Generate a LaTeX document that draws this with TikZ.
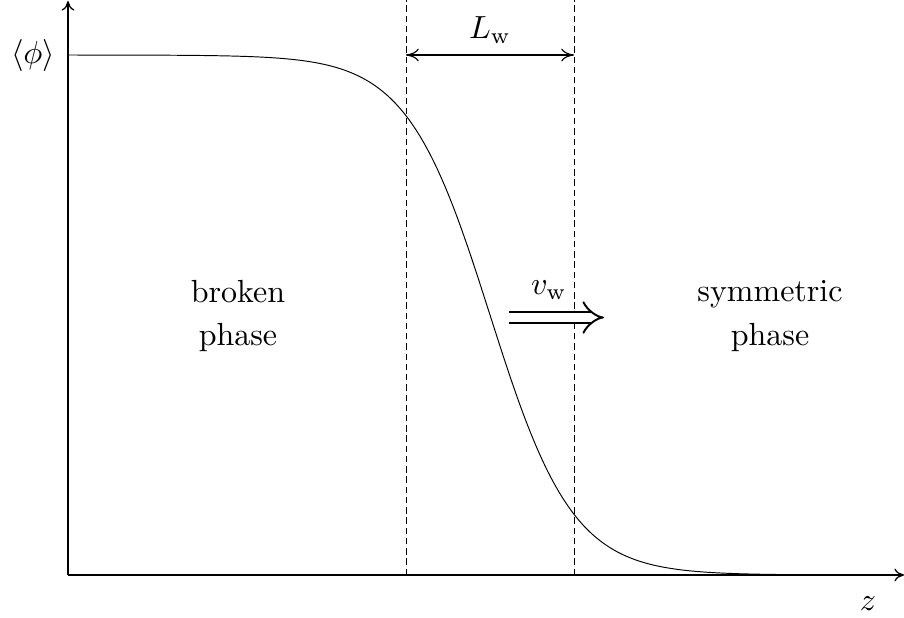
\documentclass[tikz,border=0pt]{standalone}
\usetikzlibrary{arrows.meta}
\begin{document}
\begin{tikzpicture}[x=0.3125pt,y=-0.3125pt,
  axis/.style={line width=0.4pt,-{To[length=3pt,width=4pt]}},
  guide/.style={line width=0.3pt,dashed,dash pattern=on 2pt off 1.2pt},
  lbl/.style={font=\fontsize{10}{13.5}\selectfont,align=center}]
\useasboundingbox (0,0) rectangle (904,617);
\coordinate (O) at (68,575);
\coordinate (xend) at (904,575);
\coordinate (ytop) at (68,1);
\draw[axis] (O) -- (xend);
\draw[axis] (O) -- (ytop);
\coordinate (d1b) at (406,575);
\coordinate (d1t) at (406,0);
\coordinate (d2b) at (574,575);
\coordinate (d2t) at (574,0);
\draw[guide] (d1b) -- (d1t);
\draw[guide] (d2b) -- (d2t);
\draw[line width=0.3pt] plot[domain=68:903,samples=200] (\x,{55+260*(1+tanh((\x-490)/83))});
\coordinate (lwa) at (406,55);
\coordinate (lwb) at (574,55);
\draw[line width=0.35pt,{To[length=4pt,width=4pt]}-{To[length=4pt,width=4pt]}] (lwa) -- (lwb);
\node[lbl] (lw) at (490,30) {$L_{\mathrm{w}}$};
\node[lbl] (phi) at (33,56) {$\langle\phi\rangle$};
\node[lbl] (z) at (868,604) {$z$};
\node[lbl] (broken) at (238,316) {broken\\phase};
\node[lbl] (sym) at (770,316) {symmetric\\phase};
\node[lbl] (vw) at (549,290) {$v_{\mathrm{w}}$};
\coordinate (va) at (509,317.5);
\coordinate (vb) at (604,317.5);
\draw[line width=0.6pt,double,double distance=3pt,-{Implies[scale=1.25]}] (va) -- (vb);
\end{tikzpicture}
\end{document}
